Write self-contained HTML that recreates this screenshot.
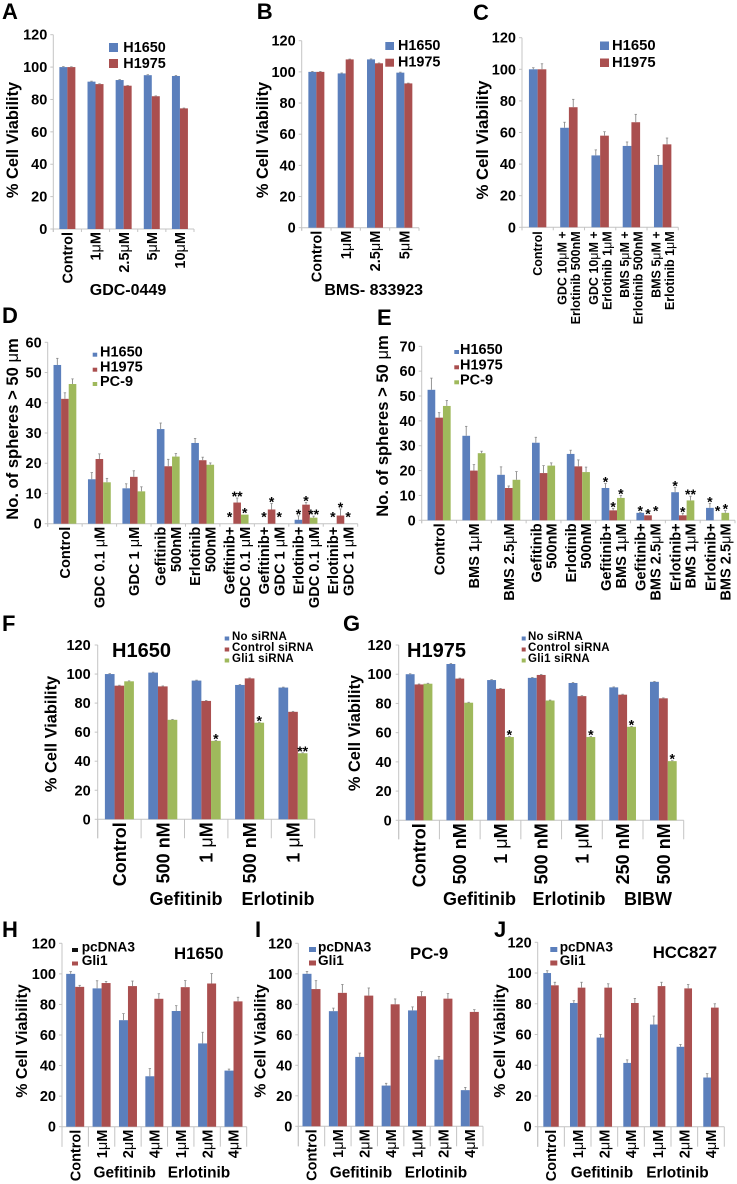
<!DOCTYPE html>
<html lang="en">
<head>
<meta charset="utf-8">
<title>Cell viability and sphere formation panels</title>
<style>
html,body{margin:0;padding:0;background:#fff;width:737px;height:1184px;overflow:hidden}
svg{display:block;filter:blur(0.3px)}
text{font-family:"Liberation Sans",Arial,sans-serif;font-weight:bold;fill:#000}
</style>
</head>
<body>
<svg id="figure" xmlns="http://www.w3.org/2000/svg" width="737" height="1184" viewBox="0 0 737 1184"></svg>
<script>
const ticks120 = [0,20,40,60,80,100,120];
const ticks60 = [0,10,20,30,40,50,60];
const ticks70 = [0,10,20,30,40,50,60,70];

const aCategories = ['Control','1μM','2.5μM','5μM','10μM'];
const aH1650 = [100,91,92,95,94.5];
const aH1975 = [100,89.5,88.5,82,74.5];
const aErrH1650 = [0.3,0.3,0.3,0.3,0.3];
const aErrH1975 = [0.2,0.2,0.2,0.2,0.2];

const bCategories = ['Control','1μM','2.5μM','5μM'];
const bH1650 = [100,99,108,99.5];
const bH1975 = [100,108,105.5,92.6];
const bErrH1650 = [0.3,0.3,0.3,0.3];
const bErrH1975 = [0.3,0.2,0.2,0.2];

const cCategories = ['Control','GDC 10μM +|Erlotinib 500nM','GDC 10μM +|Erlotinib 1μM','BMS 5μM +|Erlotinib 500nM','BMS 5μM +|Erlotinib 1μM'];
const cH1650 = [100,63,45.5,51.5,39.5];
const cH1975 = [100,76,58,66.5,52.5];
const cErrH1650 = [1,3.5,3.5,2.5,6];
const cErrH1975 = [3.5,5,2.5,5,4];

const dCategories = ['Control','GDC 0.1 μM','GDC 1 μM','Gefitinib|500nM','Erlotinib|500nM','Gefitinib+|GDC 0.1 μM','Gefitinib+|GDC 1 μM','Erlotinib+|GDC 0.1 μM','Erlotinib+|GDC 1 μM'];
const dH1650 = [52.5,14.7,11.7,31.3,26.7,0,0,1.3,0];
const dH1975 = [41.3,21.4,15.5,19,21,7,4.7,6.3,2.7];
const dPC9 = [46.2,13.7,10.7,22.2,19.5,3,0,2,0];
const dErrH1650 = [2.2,2.2,1.5,2,1.5,0,0,1.3,0];
const dErrH1975 = [2,1.7,2,2.3,1,1.5,2,0.7,2.2];
const dErrPC9 = [1.7,1.3,1.5,1,0.6,0,0,0.5,0];
const dStars = [[5,0,'*'],[5,1,'**'],[5,2,'*'],[6,0,'*'],[6,1,'*'],[6,2,'*'],[7,0,'*'],[7,1,'*'],[7,2,'**'],[8,0,'*'],[8,1,'*'],[8,2,'*']];

const eCategories = ['Control','BMS 1μM','BMS 2.5μM','Gefitinib|500nM','Erlotinib|500nM','Gefitinib+|BMS 1μM','Gefitinib+|BMS 2.5μM','Erlotinib+|BMS 1μM','Erlotinib+|BMS 2.5μM'];
const eH1650 = [52.5,34,18.3,31.2,26.7,13,3,11.3,5];
const eH1975 = [41.3,20,13,19,21.7,4,2,2,0];
const ePC9 = [46,27,16.3,22,19.4,9,0,8,3];
const eErrH1650 = [4.7,3.8,3.2,2.2,1.5,1.8,0.2,1.9,1.8];
const eErrH1975 = [2,2.4,0.8,3,2.6,0.8,0,0.8,0];
const eErrPC9 = [2.2,0.8,3.3,1.1,2,1,0,1.7,0.9];
const eStars = [[5,0,'*'],[5,1,'*'],[5,2,'*'],[6,0,'*'],[6,1,'*'],[6,2,'*'],[7,0,'*'],[7,1,'*'],[7,2,'**'],[8,0,'*'],[8,1,'*'],[8,2,'*']];

const fCategories = ['Control','500 nM','1 μM','500 nM','1 μM'];
const fNoSiRNA = [100,101,95.5,92.5,90.7];
const fControlSiRNA = [92,91.5,81.5,97,74];
const fGli1SiRNA = [95,68.5,54,66.5,45.5];
const fErr = [0.3,0.3,0.3,0.3,0.3];
const fStars = [[2,2,'*'],[3,2,'*'],[4,2,'**']];

const gCategories = ['Control','500 nM','1 μM','500 nM','1 μM','250 nM','500 nM'];
const gNoSiRNA = [100,107,96,97.5,94,91,94.8];
const gControlSiRNA = [93,97,90,99.5,85,86,83.5];
const gGli1SiRNA = [93.5,80.5,57,82,57,64,40.5];
const gErr = [0.3,0.3,0.3,0.3,0.3,0.3,0.3];
const gStars = [[2,2,'*'],[4,2,'*'],[5,2,'*'],[6,2,'*']];

const hijCategories = ['Control','1μM','2μM','4μM','1μM','2μM','4μM'];

const hPcDNA3 = [100,90.5,69.7,33,75.7,54.5,36.7];
const hGli1 = [91.5,94,92,83.7,91.3,93.7,82];
const hErrPcDNA3 = [1.5,5,4.3,5,3.5,7.3,1];
const hErrGli1 = [1,1,3.3,3.3,4.3,6.5,2.7];

const iPcDNA3 = [100,75.5,45.5,26.7,76,43.7,23.7];
const iGli1 = [90,87.5,85.7,80,85.3,83.7,75];
const iErrPcDNA3 = [1.5,2,2.5,1.5,2.3,2,1.8];
const iErrGli1 = [5.5,5.5,5,3.5,3,3.3,1.5];

const jPcDNA3 = [100,80.5,58,41.5,66.5,52,32];
const jGli1 = [92,90.5,90.5,80.5,91.5,90,77.5];
const jErrPcDNA3 = [1.5,1.5,2,2,5.5,1.5,2.5];
const jErrGli1 = [2,3.5,2.5,3,2.5,2.5,2.5];

const BLUE = '#5b7fbc';
const RED = '#aa4f4f';
const GREEN = '#9fb95c';
const AXIS = '#c4c4c4';
const NS = 'http://www.w3.org/2000/svg';
const root = document.getElementById('figure');

function make(parent, tag, attrs, name) {
  const el = document.createElementNS(NS, tag);
  for (const k in attrs) el.setAttribute(k, attrs[k]);
  
  
  parent.appendChild(el);
  return el;
}

/* writes a string into a text node, drawing the micro sign in regular weight */
function fill(el, str) {
  str.split(/(μ)/).forEach(function (part) {
    if (!part) return;
    if (part === 'μ') {
      const t = document.createElementNS(NS, 'tspan');
      t.setAttribute('font-weight', 'normal');
      t.setAttribute('style', 'font-weight:normal');
      t.textContent = part;
      el.appendChild(t);
    } else {
      el.appendChild(document.createTextNode(part));
    }
  });
}

function label(parent, str, x, y, size, anchor, name, rotate) {
  const attrs = {x: x, y: y, 'font-size': size, 'text-anchor': anchor || 'start'};
  if (rotate) attrs.transform = 'rotate(-90 ' + x + ' ' + y + ')';
  const el = make(parent, 'text', attrs, name);
  fill(el, str);
  return el;
}

function drawPanel(c) {
  const g = make(root, 'g', {}, 'panel-' + c.id);
  const n = c.categories.length;
  const yScale = function (v) { return c.y0 - v * (c.y0 - c.yTop) / c.max; };
  const groupW = (c.x1 - c.x0) / n;
  const groupCenter = function (i) { return c.x0 + (i + 0.5) * groupW; };
  const barX = function (i, s) { return groupCenter(i) - c.series.length * c.barW / 2 + s * c.barW; };

  label(g, c.id.toUpperCase(), c.letter[0], c.letter[1], 22, 'start', 'panel-letter-' + c.id);

  const tickLen = c.tickLen || 3;
  make(g, 'line', {x1: c.x0, x2: c.x0, y1: c.yTop, y2: c.y0 + tickLen, stroke: AXIS, 'stroke-width': 1}, 'y-axis-line');
  make(g, 'line', {x1: c.x0, x2: c.x1, y1: c.y0, y2: c.y0, stroke: AXIS, 'stroke-width': 1}, 'x-axis-line');

  c.ticks.forEach(function (t) {
    const y = yScale(t);
    make(g, 'line', {x1: c.x0 - 3, x2: c.x0, y1: y, y2: y, stroke: AXIS, 'stroke-width': 1}, 'y-tick');
    label(g, String(t), c.x0 - (c.tickGap || 6), y + 5, c.tickFont || 14.5, 'end', 'y-tick-label');
  });

  for (let i = 0; i <= n; i++) {
    const x = c.x0 + i * groupW;
    make(g, 'line', {x1: x, x2: x, y1: c.y0, y2: c.y0 + tickLen, stroke: AXIS, 'stroke-width': 1}, 'x-tick');
  }

  c.series.forEach(function (s, si) {
    s.values.forEach(function (v, i) {
      const top = yScale(v);
      const x = barX(i, si);
      make(g, 'rect', {x: x, y: top, width: c.barW, height: c.y0 - top, fill: s.color}, 'bar-' + s.name.toLowerCase().replace(/[^a-z0-9]+/g, '-'));
      const e = s.errs[i];
      if (e > 0) {
        const cx = x + c.barW / 2;
        const ey = yScale(v + e);
        make(g, 'line', {x1: cx, x2: cx, y1: top, y2: ey, stroke: '#8a8a8a', 'stroke-width': 0.9}, 'error-bar');
        make(g, 'line', {x1: cx - 1.2, x2: cx + 1.2, y1: ey, y2: ey, stroke: '#8a8a8a', 'stroke-width': 0.8}, 'error-cap');
      }
    });
  });

  (c.stars || []).forEach(function (st) {
    const s = c.series[st[1]];
    const v = s.values[st[0]];
    const gap = v === 0 ? (c.zeroGap || 10) : 5;
    const cy = yScale(v + s.errs[st[0]]) - gap;
    label(g, st[2], barX(st[0], st[1]) + c.barW / 2, cy + 8, 14, 'middle', 'significance-star');
  });

  c.categories.forEach(function (cat, i) {
    const lines = cat.split('|');
    lines.forEach(function (ln, li) {
      const x = groupCenter(i) + (li - (lines.length - 1) / 2) * c.lineGap + c.catFont * 0.36;
      label(g, ln, x, c.y0 + c.catOffset, c.catFont, 'end', 'category-label', true);
    });
  });

  label(g, c.yTitle, c.yTitlePos[0], c.yTitlePos[1], c.yTitleFont || 16.4, 'middle', 'y-axis-title', true);

  (c.xLabels || []).forEach(function (xl) {
    label(g, xl[0], xl[1], xl[2], xl[3], 'middle', 'x-group-label');
  });

  if (c.title) label(g, c.title[0], c.title[1], c.title[2], c.title[3], 'start', 'panel-title');

  c.legend.items.forEach(function (it, i) {
    const base = c.legend.baselines[i];
    make(g, 'rect', {x: c.legend.mx, y: base - c.legend.mh - c.legend.mdrop, width: c.legend.mw, height: c.legend.mh, fill: it.color || c.series[i].color}, 'legend-swatch');
    const t = label(g, c.series[i].name, c.legend.tx, base, c.legend.font, 'start', 'legend-entry');
    if (c.legend.spacing) t.setAttribute('letter-spacing', c.legend.spacing);
  });
}

function two(a, ea, b, eb, n1, n2) {
  return [{name: n1, values: a, errs: ea, color: BLUE}, {name: n2, values: b, errs: eb, color: RED}];
}
function three(a, ea, b, eb, d, ed, n1, n2, n3) {
  return [{name: n1, values: a, errs: ea, color: BLUE}, {name: n2, values: b, errs: eb, color: RED}, {name: n3, values: d, errs: ed, color: GREEN}];
}

drawPanel({id:'a', letter:[2,19], x0:53.3, x1:194, y0:229, yTop:34.7, max:120, ticks:ticks120, categories:aCategories,
  series:two(aH1650,aErrH1650,aH1975,aErrH1975,'H1650','H1975'), barW:8, catFont:14.5, catOffset:3, lineGap:14,
  yTitle:'% Cell Viability', yTitlePos:[18,140],
  xLabels:[['GDC-0449',128,295,16]],
  legend:{mx:109,mw:9,mh:9,mdrop:0,tx:123.3,baselines:[52,68],font:14.4,items:[{},{}]}});

drawPanel({id:'b', letter:[256.7,19], x0:301.7, x1:419, y0:227.7, yTop:40.7, max:120, ticks:ticks120, categories:bCategories,
  series:two(bH1650,bErrH1650,bH1975,bErrH1975,'H1650','H1975'), barW:8, catFont:14.5, catOffset:3, lineGap:14,
  yTitle:'% Cell Viability', yTitlePos:[268,140],
  xLabels:[['BMS- 833923',373.7,295,16]],
  legend:{mx:385.3,mw:8.7,mh:8,mdrop:0,tx:398,baselines:[50,66.7],font:14.4,items:[{},{}]}});

drawPanel({id:'c', letter:[473,20], x0:522, x1:678.3, y0:227.3, yTop:37.7, max:120, ticks:ticks120, categories:cCategories,
  series:two(cH1650,cErrH1650,cH1975,cErrH1975,'H1650','H1975'), barW:8.7, catFont:12.5, catOffset:4, lineGap:13.5,
  yTitle:'% Cell Viability', yTitlePos:[488,140], yTitleFont:16.8,
  legend:{mx:600,mw:9,mh:8.5,mdrop:0,tx:612,baselines:[50,67],font:14.8,items:[{},{}]}});

drawPanel({id:'d', letter:[2,323], x0:47.7, x1:357.7, y0:523.7, yTop:342.3, max:60, ticks:ticks60, categories:dCategories,
  series:three(dH1650,dErrH1650,dH1975,dErrH1975,dPC9,dErrPC9,'H1650','H1975','PC-9'), barW:7.6, catFont:14.6, catOffset:3, lineGap:15.5, stars:dStars,
  yTitle:'No. of spheres > 50 μm', yTitlePos:[18,429], yTitleFont:16.6,
  legend:{mx:92.7,mw:4.5,mh:4,mdrop:0,tx:100,baselines:[356.7,371.7,386],font:14.5,items:[{},{},{}]}});

drawPanel({id:'e', letter:[377,325], x0:421.7, x1:735, y0:520.3, yTop:346.3, max:70, ticks:ticks70, categories:eCategories,
  series:three(eH1650,eErrH1650,eH1975,eErrH1975,ePC9,eErrPC9,'H1650','H1975','PC-9'), barW:7.7, catFont:14.6, catOffset:3, lineGap:15, stars:eStars, zeroGap:13,
  yTitle:'No. of spheres > 50 μm', yTitlePos:[388,426], yTitleFont:16.6,
  legend:{mx:454.3,mw:4.7,mh:4,mdrop:0,tx:460,baselines:[354,369.3,384.3],font:14.5,items:[{},{},{}]}});

drawPanel({id:'f', letter:[2,631], x0:97.7, x1:314.7, y0:819.3, yTop:645, max:120, ticks:ticks120, categories:fCategories,
  series:three(fNoSiRNA,fErr,fControlSiRNA,fErr,fGli1SiRNA,fErr,'No siRNA','Control siRNA','Gli1 siRNA'), barW:9.67, catFont:18, catOffset:3, lineGap:16, tickLen:19, tickGap:7, stars:fStars,
  yTitle:'% Cell Viability', yTitlePos:[56.7,734],
  title:['H1650',112,657,20],
  xLabels:[['Gefitinib',186,905,18],['Erlotinib',278,905,18]],
  legend:{mx:224.7,mw:4.5,mh:4,mdrop:-0.5,tx:232,baselines:[640,651,662],font:11.5,spacing:0.25,items:[{},{},{}]}});

drawPanel({id:'g', letter:[343,631], x0:398.7, x1:683.7, y0:820.3, yTop:645, max:120, ticks:ticks120, categories:gCategories,
  series:three(gNoSiRNA,gErr,gControlSiRNA,gErr,gGli1SiRNA,gErr,'No siRNA','Control siRNA','Gli1 siRNA'), barW:8.9, catFont:18, catOffset:3, lineGap:16, tickLen:19, tickGap:7, stars:gStars,
  yTitle:'% Cell Viability', yTitlePos:[360,733],
  title:['H1975',407,657,20],
  xLabels:[['Gefitinib',479.5,905,18],['Erlotinib',569,905,18],['BIBW',648,905,18]],
  legend:{mx:521.7,mw:4,mh:4,mdrop:-0.5,tx:528,baselines:[640,651,662],font:11.5,spacing:0.25,items:[{},{},{}]}});

drawPanel({id:'h', letter:[2,937], x0:62, x1:246.7, y0:1126.7, yTop:943.3, max:120, ticks:ticks120, categories:hijCategories,
  series:two(hPcDNA3,hErrPcDNA3,hGli1,hErrGli1,'pcDNA3','Gli1'), barW:9, catFont:14.5, catOffset:3, lineGap:14, tickLen:20,
  yTitle:'% Cell Viability', yTitlePos:[27,1041], yTitleFont:16,
  title:['H1650',174,959,16.8],
  xLabels:[['Gefitinib',124.7,1177.7,15.4],['Erlotinib',199,1177.7,15.4]],
  legend:{mx:72,mw:6,mh:4,mdrop:-0.5,tx:81.7,baselines:[951.5,965],font:13.7,items:[{color:'#111'},{}]}});

drawPanel({id:'i', letter:[255,937], x0:298.3, x1:483, y0:1126.3, yTop:943.3, max:120, ticks:ticks120, categories:hijCategories,
  series:two(iPcDNA3,iErrPcDNA3,iGli1,iErrGli1,'pcDNA3','Gli1'), barW:9, catFont:14.5, catOffset:3, lineGap:14, tickLen:20,
  yTitle:'% Cell Viability', yTitlePos:[265.7,1041], yTitleFont:16,
  title:['PC-9',410,959,16.8],
  xLabels:[['Gefitinib',361,1177.7,15.4],['Erlotinib',436,1177.7,15.4]],
  legend:{mx:309,mw:7,mh:5,mdrop:-0.5,tx:318,baselines:[951.5,965],font:13.7,items:[{},{}]}});

drawPanel({id:'j', letter:[494,937], x0:537.7, x1:724.3, y0:1126.7, yTop:942.3, max:120, ticks:ticks120, categories:hijCategories,
  series:two(jPcDNA3,jErrPcDNA3,jGli1,jErrGli1,'pcDNA3','Gli1'), barW:7.7, catFont:14.5, catOffset:3, lineGap:14, tickLen:20,
  yTitle:'% Cell Viability', yTitlePos:[505,1041], yTitleFont:16,
  title:['HCC827',652.7,958,16.8],
  xLabels:[['Gefitinib',602,1177.7,15.4],['Erlotinib',677.5,1177.7,15.4]],
  legend:{mx:550.3,mw:7,mh:5,mdrop:-0.5,tx:559.7,baselines:[951.5,965],font:13.7,items:[{},{}]}});
</script>
</body>
</html>
